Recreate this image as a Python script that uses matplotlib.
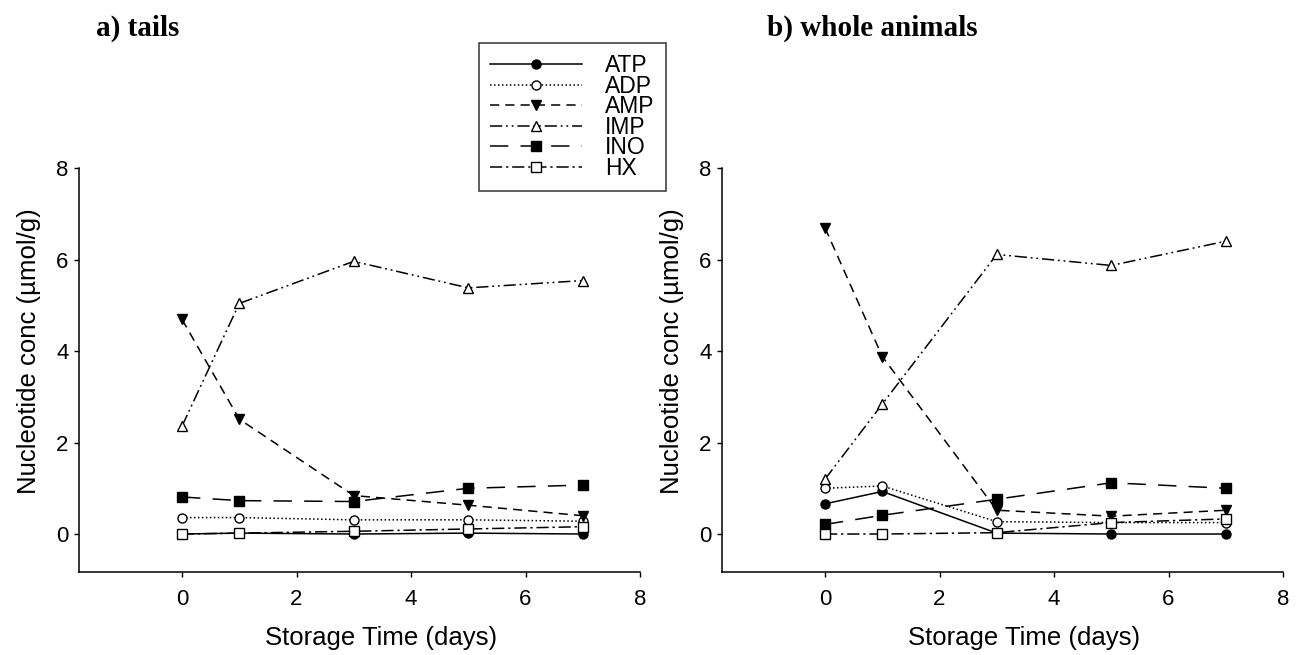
import matplotlib
matplotlib.use("Agg")
import matplotlib.pyplot as plt
from matplotlib.lines import Line2D

plt.rcParams['font.family'] = ['Liberation Sans', 'DejaVu Sans']

days = [0, 1, 3, 5, 7]
series_names = ["ATP", "ADP", "AMP", "IMP", "INO", "HX"]

tails = {
    "ATP": [0.00, 0.02, 0.00, 0.02, 0.00],
    "ADP": [0.36, 0.36, 0.31, 0.31, 0.28],
    "AMP": [4.69, 2.51, 0.84, 0.63, 0.40],
    "IMP": [2.36, 5.04, 5.96, 5.38, 5.54],
    "INO": [0.81, 0.73, 0.71, 1.00, 1.07],
    "HX":  [0.00, 0.02, 0.06, 0.11, 0.16],
}
whole = {
    "ATP": [0.66, 0.93, 0.02, 0.00, 0.00],
    "ADP": [1.00, 1.05, 0.27, 0.25, 0.25],
    "AMP": [6.69, 3.88, 0.52, 0.39, 0.52],
    "IMP": [1.20, 2.84, 6.11, 5.87, 6.40],
    "INO": [0.21, 0.41, 0.76, 1.12, 1.00],
    "HX":  [0.00, 0.00, 0.03, 0.25, 0.33],
}

x_ticks = [0, 2, 4, 6, 8]
y_ticks = [0, 2, 4, 6, 8]
x_label = "Storage Time (days)"
y_label = "Nucleotide conc (µmol/g)"
titles = ["a) tails", "b) whole animals"]

styles = {
    "ATP": dict(linestyle='-', marker='o', mfc='black'),
    "ADP": dict(linestyle=(0, (1, 1.6)), marker='o', mfc='white'),
    "AMP": dict(linestyle=(0, (6, 4)), marker='v', mfc='black'),
    "IMP": dict(linestyle=(0, (8, 2.5, 1.2, 2.5, 1.2, 2.5)), marker='^', mfc='white'),
    "INO": dict(linestyle=(0, (12, 8)), marker='s', mfc='black'),
    "HX":  dict(linestyle=(0, (8, 2.5, 1.5, 2.5)), marker='s', mfc='white'),
}

fig = plt.figure(figsize=(13.01, 6.55), dpi=100)
W, H = 1301, 655
axes = []
for left_px in (79, 722):
    ax = fig.add_axes([left_px / W, 1 - 572 / H, (640 - 79) / W, (572 - 168) / H])
    axes.append(ax)

for ax, data in zip(axes, [tails, whole]):
    for name in series_names:
        st = styles[name]
        ax.plot(days, data[name], color='black', lw=1.1, linestyle=st['linestyle'],
                marker=st['marker'], mfc=st['mfc'], mec='black', mew=1.0, ms=6.5)
    ax.set_xlim(-1.8, 8)
    ax.set_ylim(-0.83, 8)
    ax.set_xticks(x_ticks)
    ax.set_yticks(y_ticks)
    ax.spines['top'].set_visible(False)
    ax.spines['right'].set_visible(False)
    for s in ('left', 'bottom'):
        ax.spines[s].set_linewidth(1.1)
    ax.tick_params(direction='out', length=3.5, width=1.0, labelsize=16)
    ax.tick_params(axis='x', pad=9)
    ax.tick_params(axis='y', pad=4)
    ax.set_xlabel(x_label, fontsize=18.5, labelpad=11, x=0.538)
    ax.set_ylabel(y_label, fontsize=18.5, labelpad=11, y=0.547)

fig.text(96 / W, 1 - 28 / H, titles[0], fontsize=21, fontweight='bold',
         family=['Liberation Serif'], va='center', ha='left')
fig.text(978 / W, 1 - 28 / H, titles[1], fontsize=21, fontweight='bold',
         family=['Liberation Serif'], va='center', ha='right')

handles = []
for name in series_names:
    st = styles[name]
    handles.append(Line2D([0], [0], color='black', lw=1.1, linestyle=st['linestyle'],
                          marker=st['marker'], mfc=st['mfc'], mec='black', mew=1.0, ms=6.5))
leg = fig.legend(handles, series_names, loc='upper left',
                 bbox_to_anchor=(479 / W, 1 - 43 / H), fontsize=16.5,
                 handlelength=4.0, handletextpad=1.0, labelspacing=-0.11,
                 borderpad=0.5, borderaxespad=0, fancybox=False, frameon=True,
                 edgecolor='black', numpoints=1)
leg.get_frame().set_linewidth(1.1)

fig.savefig("out.png", dpi=100)
